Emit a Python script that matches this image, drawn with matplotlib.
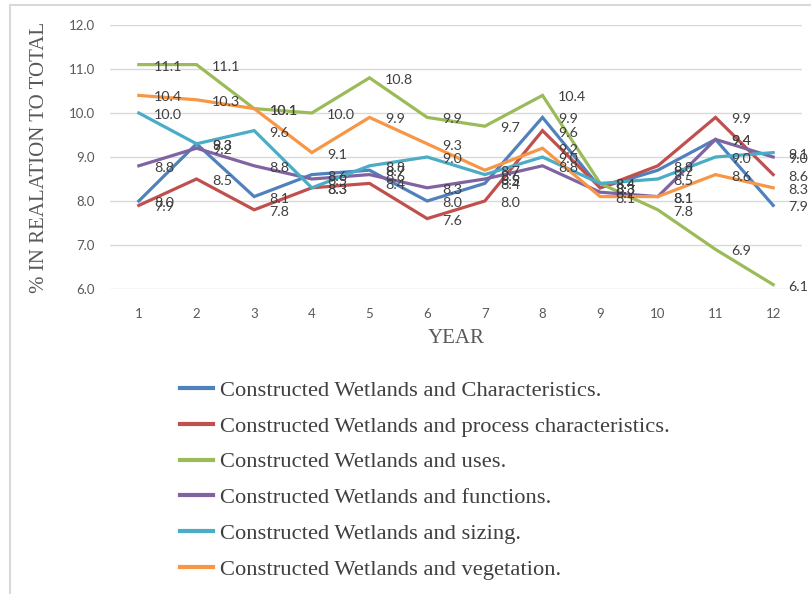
import matplotlib.pyplot as plt
from matplotlib.patches import Rectangle

years = list(range(1, 13))

characteristics = [8.0, 9.3, 8.1, 8.6, 8.7, 8.0, 8.4, 9.9, 8.3, 8.7, 9.4, 7.9]
process = [7.9, 8.5, 7.8, 8.3, 8.4, 7.6, 8.0, 9.6, 8.3, 8.8, 9.9, 8.6]
uses = [11.1, 11.1, 10.1, 10.0, 10.8, 9.9, 9.7, 10.4, 8.4, 7.8, 6.9, 6.1]
functions = [8.8, 9.2, 8.8, 8.5, 8.6, 8.3, 8.5, 8.8, 8.2, 8.1, 9.4, 9.0]
sizing = [10.0, 9.3, 9.6, 8.3, 8.8, 9.0, 8.6, 9.0, 8.4, 8.5, 9.0, 9.1]
vegetation = [10.4, 10.3, 10.1, 9.1, 9.9, 9.3, 8.7, 9.2, 8.1, 8.1, 8.6, 8.3]

series = [
    ("Constructed Wetlands and Characteristics.", characteristics, "#4F81BD"),
    ("Constructed Wetlands and process characteristics.", process, "#C0504D"),
    ("Constructed Wetlands and uses.", uses, "#9BBB59"),
    ("Constructed Wetlands and functions.", functions, "#8064A2"),
    ("Constructed Wetlands and sizing.", sizing, "#4BACC6"),
    ("Constructed Wetlands and vegetation.", vegetation, "#F79646"),
]

W, H = 811, 594
fig = plt.figure(figsize=(W / 100, H / 100), dpi=100)
fig.patches.append(Rectangle((10 / W, -0.1), 1.1, (H - 5) / H + 0.1,
                             transform=fig.transFigure, fill=False,
                             edgecolor="#d9d9d9", linewidth=1.5))

ax = fig.add_axes([110 / W, (H - 289) / H, 692 / W, 264 / H])

SANS = ["Lato", "DejaVu Sans"]
SERIF = ["Liberation Serif", "DejaVu Serif"]

for label, vals, color in series:
    ax.plot(years, vals, color=color, linewidth=2.3, label=label,
            solid_joinstyle="miter")
    for x, v in zip(years, vals):
        ax.annotate(f"{v:.1f}", xy=(x, v), xytext=(11, -1.5),
                    textcoords="offset points", ha="left", va="center",
                    fontsize=10.3, color="#404040", family=SANS,
                    annotation_clip=False)

ax.set_xlim(0.5, 12.5)
ax.set_ylim(6.0, 12.0)
ax.set_xticks(years)
ax.set_yticks([6, 7, 8, 9, 10, 11, 12])
ax.set_yticklabels([f"{v:.1f}" for v in range(6, 13)])
ax.tick_params(length=0, labelsize=9.5, labelcolor="#595959")
ax.tick_params(axis="x", pad=14)
ax.tick_params(axis="y", pad=11)
for t in ax.get_xticklabels() + ax.get_yticklabels():
    t.set_family(SANS)

ax.grid(axis="y", color="#d9d9d9", linewidth=1)
ax.set_axisbelow(True)
for s in ax.spines.values():
    s.set_visible(False)

ax.set_ylabel("% IN REALATION TO TOTAL", family=SERIF, fontsize=15,
              color="#595959", labelpad=14)
ax.set_xlabel("YEAR", family=SERIF, fontsize=15, color="#595959", labelpad=6)

leg = fig.legend(loc="upper left", bbox_to_anchor=(180 / W, 1 - 380 / H),
                 frameon=False, prop={"family": SERIF, "size": 16.2},
                 handlelength=1.47, handletextpad=0.31, labelspacing=0.67,
                 borderpad=0, borderaxespad=0)
for t in leg.get_texts():
    t.set_color("#404040")
for h in leg.get_lines():
    h.set_linewidth(3)

fig.savefig("out.png", dpi=100)
